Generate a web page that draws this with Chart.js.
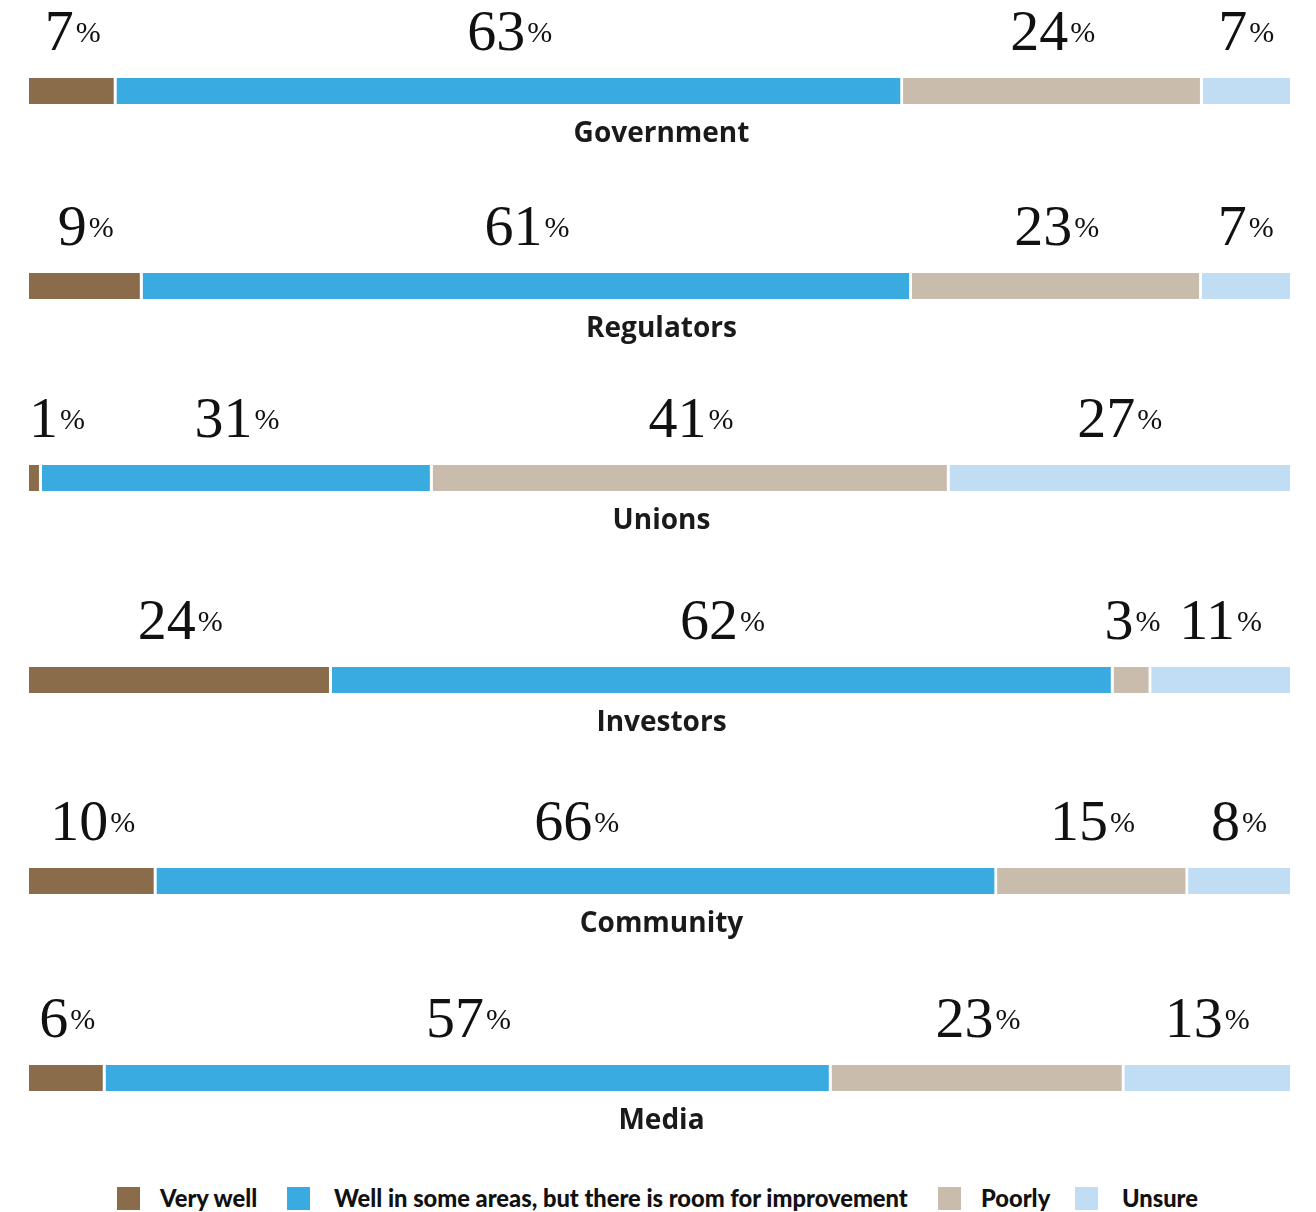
<!DOCTYPE html>
<html>
<head>
<meta charset="utf-8">
<script src="https://cdn.jsdelivr.net/npm/chart.js@4"></script>
<style>
  body { margin: 0; background: #fff; }
  #page { position: relative; width: 1316px; height: 1212px; overflow: hidden; }
  .row { position: absolute; left: 0; width: 1316px; }
  .legend { position: absolute; top: 1186px; left: 0; width: 1316px; height: 24px;
            font-family: Lato, "Open Sans", sans-serif; font-weight: 900; font-size: 23.7px; color: #111; }
  .legend .item { position: absolute; top: 0; display: flex; align-items: center; height: 24px; white-space: nowrap; }
  .legend .swatch { width: 23px; height: 23px; display: inline-block; flex: none; }
</style>
</head>
<body>
<div id="page"></div>
<script>
// Survey answers per stakeholder group (percent)
const categories = ['Government', 'Regulators', 'Unions', 'Investors', 'Community', 'Media'];
const veryWell = [7, 9, 1, 24, 10, 6];
const someAreas = [63, 61, 31, 62, 66, 57];
const poorly = [24, 23, 41, 3, 15, 23];
const unsure = [7, 7, 27, 11, 8, 13];
const seriesNames = ['Very well', 'Well in some areas, but there is room for improvement', 'Poorly', 'Unsure'];
const seriesColors = ['#8a6c4b', '#3aabe1', '#c9bcad', '#c1ddf3'];

// layout of the rows (top edge of each bar)
const barTops = [78, 273, 465, 667, 868, 1065];
const padTop = 70, barH = 26, padBottom = 56;
const legendLefts = [117, 287, 938, 1075];

const page = document.getElementById('page');

// draws the big percentage above each segment and the group name under the bar
const valueLabels = {
  id: 'valueLabels',
  afterDatasetsDraw(chart) {
    const ctx = chart.ctx;
    const area = chart.chartArea;
    const numFont = '58px "Liberation Serif", "DejaVu Serif", serif';
    const pctFont = '30px "Liberation Serif", "DejaVu Serif", serif';
    ctx.save();
    chart.data.datasets.forEach((ds, i) => {
      const bar = chart.getDatasetMeta(i).data[0];
      const val = ds.data[0];
      const center = (bar.x + bar.base) / 2;
      ctx.font = numFont;
      const numW = ctx.measureText(String(val)).width;
      ctx.font = pctFont;
      const pctW = ctx.measureText('%').width;
      const w = numW + 2 + pctW;
      let left = center - w / 2;
      if (left < area.left) left = area.left;
      if (left + w > area.right) left = area.right - w;
      const base = area.top - 28;
      ctx.fillStyle = '#111';
      ctx.textBaseline = 'alphabetic';
      ctx.textAlign = 'left';
      ctx.font = numFont;
      ctx.fillText(String(val), left, base);
      ctx.font = pctFont;
      ctx.fillText('%', left + numW + 2, base - 8);
    });
    ctx.font = '700 28px "Open Sans", sans-serif';
    ctx.textAlign = 'center';
    ctx.textBaseline = 'middle';
    ctx.fillStyle = '#1a1a1a';
    ctx.fillText(chart.data.labels[0], (area.left + area.right) / 2 + 2, area.bottom + 30);
    ctx.restore();
  }
};

categories.forEach((cat, r) => {
  const row = document.createElement('div');
  row.className = 'row';
  row.style.top = (barTops[r] - padTop) + 'px';
  const canvas = document.createElement('canvas');
  canvas.width = 1316;
  canvas.height = padTop + barH + padBottom;
  row.appendChild(canvas);
  page.appendChild(row);

  const values = [veryWell[r], someAreas[r], poorly[r], unsure[r]];
  const total = values.reduce((a, b) => a + b, 0);

  new Chart(canvas, {
    type: 'bar',
    data: {
      labels: [cat],
      datasets: values.map((v, i) => ({
        label: seriesNames[i],
        data: [v],
        backgroundColor: seriesColors[i],
        borderColor: '#ffffff',
        borderWidth: i < 3 ? { right: 3 } : 0,
        borderSkipped: false,
        barPercentage: 1,
        categoryPercentage: 1
      }))
    },
    options: {
      indexAxis: 'y',
      responsive: false,
      animation: false,
      layout: { padding: { left: 29, right: 26, top: padTop, bottom: padBottom } },
      scales: {
        x: { stacked: true, min: 0, max: total, display: false },
        y: { stacked: true, display: false }
      },
      plugins: { legend: { display: false }, tooltip: { enabled: false } }
    },
    plugins: [valueLabels]
  });
});

// legend along the bottom
const legend = document.createElement('div');
legend.className = 'legend';
seriesNames.forEach((name, i) => {
  const item = document.createElement('div');
  item.className = 'item';
  item.style.left = legendLefts[i] + 'px';
  const sw = document.createElement('span');
  sw.className = 'swatch';
  sw.style.background = seriesColors[i];
  sw.style.marginRight = (i % 2 === 0 ? 20 : 24) + 'px';
  item.appendChild(sw);
  item.appendChild(document.createTextNode(name));
  legend.appendChild(item);
});
page.appendChild(legend);
</script>
</body>
</html>
